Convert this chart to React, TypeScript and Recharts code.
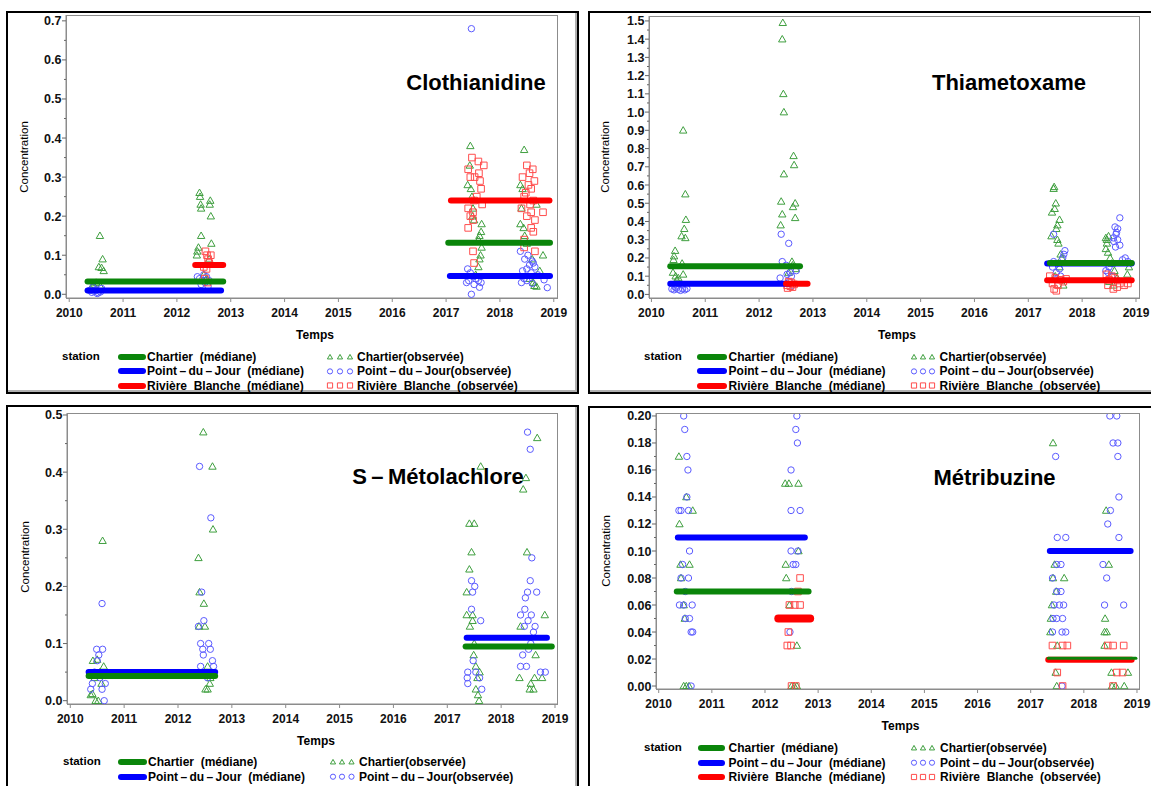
import React from 'react';
import { ScatterChart, Scatter, XAxis, YAxis } from 'recharts';

type Pt = [number, number];

const FONT = '"Liberation Sans", Arial, Helvetica, sans-serif';

// ---------- common ----------
const yearTicks = [2010, 2011, 2012, 2013, 2014, 2015, 2016, 2017, 2018, 2019];
const stationLabel = 'station';
const medLabels = ['Chartier  (médiane)', 'Point\u2009–\u2009du\u2009–\u2009Jour  (médiane)', 'Rivière  Blanche  (médiane)'];
const obsLabels = ['Chartier(observée)', 'Point\u2009–\u2009du\u2009–\u2009Jour(observée)', 'Rivière  Blanche  (observée)'];
const xTitle = 'Temps';
const yTitle = 'Concentration';

// ---------- Clothianidine ----------
const cloTicks = [0, 0.1, 0.2, 0.3, 0.4, 0.5, 0.6, 0.7];
const cloChartierObs: Pt[] = [
  [2010.57, 0.15], [2010.62, 0.09], [2010.55, 0.07], [2010.6, 0.068], [2010.64, 0.06], [2010.5, 0.03], [2010.45, 0.025], [2010.58, 0.02], [2010.4, 0.015],
  [2012.42, 0.26], [2012.43, 0.25], [2012.44, 0.23], [2012.45, 0.22], [2012.62, 0.24], [2012.61, 0.23], [2012.63, 0.2], [2012.45, 0.15], [2012.64, 0.13], [2012.4, 0.12], [2012.38, 0.11], [2012.37, 0.1], [2012.6, 0.09], [2012.5, 0.05], [2012.55, 0.04],
  [2017.45, 0.38], [2017.44, 0.33], [2017.4, 0.28], [2017.46, 0.27], [2017.48, 0.25], [2017.5, 0.22], [2017.49, 0.2], [2017.52, 0.19], [2017.66, 0.18], [2017.65, 0.16], [2017.62, 0.15], [2017.6, 0.14], [2017.66, 0.12], [2017.64, 0.1], [2017.62, 0.09], [2017.6, 0.07], [2017.55, 0.05],
  [2018.45, 0.37], [2018.38, 0.28], [2018.42, 0.27], [2018.68, 0.23], [2018.4, 0.22], [2018.38, 0.18], [2018.44, 0.17], [2018.46, 0.15], [2018.5, 0.13], [2018.8, 0.1], [2018.6, 0.09], [2018.74, 0.06], [2018.55, 0.04], [2018.62, 0.03], [2018.64, 0.022], [2018.68, 0.02],
];
const cloPdjObs: Pt[] = [
  [2010.38, 0.01], [2010.42, 0.005], [2010.46, 0.008], [2010.5, 0.012], [2010.54, 0.004], [2010.58, 0.006], [2010.6, 0.015], [2010.44, 0.018], [2010.52, 0.002],
  [2012.38, 0.045], [2012.42, 0.04], [2012.5, 0.05], [2012.55, 0.045], [2012.6, 0.035], [2012.45, 0.025], [2012.52, 0.03], [2012.58, 0.02],
  [2017.47, 0.68], [2017.4, 0.065], [2017.45, 0.055], [2017.5, 0.045], [2017.55, 0.04], [2017.42, 0.035], [2017.38, 0.03], [2017.6, 0.035], [2017.65, 0.03], [2017.47, 0.0], [2017.62, 0.018], [2017.52, 0.025],
  [2018.38, 0.11], [2018.52, 0.1], [2018.46, 0.09], [2018.6, 0.085], [2018.62, 0.08], [2018.55, 0.075], [2018.65, 0.07], [2018.5, 0.065], [2018.42, 0.06], [2018.58, 0.055], [2018.7, 0.05], [2018.45, 0.04], [2018.5, 0.035], [2018.4, 0.03], [2018.82, 0.037], [2018.88, 0.017], [2018.6, 0.028],
];
const cloRbObs: Pt[] = [
  [2012.53, 0.11], [2012.56, 0.1], [2012.63, 0.1], [2012.58, 0.09], [2012.6, 0.08], [2012.5, 0.07], [2012.55, 0.065], [2012.52, 0.04], [2012.57, 0.03],
  [2017.48, 0.35], [2017.6, 0.34], [2017.7, 0.33], [2017.41, 0.32], [2017.45, 0.3], [2017.53, 0.3], [2017.61, 0.31], [2017.63, 0.29], [2017.65, 0.27], [2017.57, 0.25], [2017.52, 0.24], [2017.67, 0.23], [2017.41, 0.22], [2017.5, 0.21], [2017.45, 0.2], [2017.5, 0.19], [2017.41, 0.17], [2017.5, 0.11], [2017.52, 0.08],
  [2018.5, 0.33], [2018.61, 0.32], [2018.55, 0.31], [2018.42, 0.3], [2018.64, 0.29], [2018.53, 0.28], [2018.58, 0.27], [2018.48, 0.26], [2018.45, 0.25], [2018.62, 0.24], [2018.56, 0.23], [2018.4, 0.22], [2018.58, 0.21], [2018.8, 0.21], [2018.5, 0.2], [2018.65, 0.19], [2018.58, 0.17], [2018.62, 0.16], [2018.45, 0.14], [2018.45, 0.12], [2018.65, 0.11],
];
const cloChartierMed: Pt[][] = [[[2010.34, 0.033], [2012.86, 0.033]], [[2017.04, 0.132], [2018.93, 0.132]]];
const cloPdjMed: Pt[][] = [[[2010.34, 0.01], [2012.82, 0.01]], [[2017.07, 0.047], [2018.93, 0.047]]];
const cloRbMed: Pt[][] = [[[2012.34, 0.075], [2012.86, 0.075]], [[2017.09, 0.24], [2018.92, 0.24]]];

// ---------- Thiametoxame ----------
const thiTicks = [0, 0.1, 0.2, 0.3, 0.4, 0.5, 0.6, 0.7, 0.8, 0.9, 1.0, 1.1, 1.2, 1.3, 1.4, 1.5];
const thiChartierObs: Pt[] = [
  [2010.59, 0.9], [2010.63, 0.55], [2010.64, 0.41], [2010.61, 0.36], [2010.56, 0.32], [2010.63, 0.31], [2010.44, 0.24], [2010.42, 0.21], [2010.41, 0.19], [2010.57, 0.17], [2010.4, 0.12], [2010.59, 0.11], [2010.45, 0.1], [2010.5, 0.09], [2010.47, 0.08],
  [2012.44, 1.49], [2012.43, 1.4], [2012.45, 1.1], [2012.46, 1.0], [2012.64, 0.76], [2012.65, 0.71], [2012.46, 0.66], [2012.41, 0.51], [2012.67, 0.5], [2012.63, 0.48], [2012.43, 0.44], [2012.67, 0.42], [2012.4, 0.38], [2012.61, 0.18], [2012.62, 0.16], [2012.68, 0.14], [2012.55, 0.12],
  [2017.48, 0.59], [2017.47, 0.58], [2017.51, 0.5], [2017.49, 0.47], [2017.44, 0.45], [2017.58, 0.41], [2017.54, 0.38], [2017.52, 0.36], [2017.43, 0.32], [2017.54, 0.3], [2017.56, 0.28], [2017.6, 0.22], [2017.62, 0.2], [2017.58, 0.15], [2017.5, 0.1], [2017.65, 0.05],
  [2018.49, 0.32], [2018.44, 0.31], [2018.46, 0.3], [2018.46, 0.28], [2018.44, 0.25], [2018.48, 0.23], [2018.52, 0.2], [2018.55, 0.17], [2018.87, 0.15], [2018.6, 0.13], [2018.84, 0.11], [2018.65, 0.09], [2018.5, 0.07], [2018.58, 0.05],
];
const thiPdjObs: Pt[] = [
  [2010.38, 0.03], [2010.42, 0.025], [2010.46, 0.035], [2010.5, 0.028], [2010.54, 0.022], [2010.58, 0.03], [2010.62, 0.025], [2010.66, 0.032], [2010.44, 0.04],
  [2012.41, 0.33], [2012.55, 0.28], [2012.43, 0.18], [2012.5, 0.16], [2012.69, 0.13], [2012.58, 0.12], [2012.52, 0.11], [2012.6, 0.1], [2012.39, 0.09], [2012.56, 0.07], [2012.62, 0.05],
  [2017.47, 0.33], [2017.68, 0.24], [2017.66, 0.22], [2017.64, 0.2], [2017.47, 0.18], [2017.55, 0.17], [2017.45, 0.15], [2017.58, 0.14], [2017.52, 0.12], [2017.6, 0.1], [2017.5, 0.08],
  [2018.7, 0.42], [2018.61, 0.37], [2018.66, 0.36], [2018.64, 0.34], [2018.63, 0.33], [2018.58, 0.31], [2018.66, 0.3], [2018.59, 0.29], [2018.7, 0.27], [2018.62, 0.26], [2018.8, 0.2], [2018.75, 0.19], [2018.85, 0.18], [2018.5, 0.15], [2018.44, 0.13], [2018.48, 0.12], [2018.55, 0.1],
];
const thiRbObs: Pt[] = [
  [2012.55, 0.07], [2012.6, 0.065], [2012.65, 0.055], [2012.52, 0.05], [2012.58, 0.045], [2012.53, 0.035], [2012.62, 0.04],
  [2017.4, 0.1], [2017.5, 0.09], [2017.6, 0.08], [2017.45, 0.06], [2017.55, 0.05], [2017.65, 0.07], [2017.48, 0.03], [2017.52, 0.02], [2017.7, 0.085],
  [2018.45, 0.11], [2018.55, 0.1], [2018.6, 0.09], [2018.5, 0.08], [2018.7, 0.06], [2018.48, 0.05], [2018.65, 0.04], [2018.58, 0.03], [2018.85, 0.06], [2018.78, 0.05],
];
const thiChartierMed: Pt[][] = [[[2010.35, 0.155], [2012.76, 0.155]], [[2017.4, 0.172], [2018.92, 0.172]]];
const thiPdjMed: Pt[][] = [[[2010.35, 0.058], [2012.55, 0.058]], [[2017.35, 0.17], [2018.92, 0.17]]];
const thiRbMed: Pt[][] = [[[2012.5, 0.058], [2012.9, 0.058]], [[2017.35, 0.078], [2018.92, 0.078]]];

// ---------- S-Métolachlore ----------
const metTicks = [0, 0.1, 0.2, 0.3, 0.4, 0.5];
const metChartierObs: Pt[] = [
  [2010.6, 0.28], [2010.42, 0.07], [2010.5, 0.072], [2010.62, 0.06], [2010.55, 0.05], [2010.45, 0.04], [2010.58, 0.03], [2010.38, 0.01], [2010.41, 0.012], [2010.47, 0.0], [2010.52, 0.0],
  [2012.47, 0.47], [2012.64, 0.41], [2012.65, 0.3], [2012.38, 0.25], [2012.4, 0.19], [2012.48, 0.17], [2012.39, 0.13], [2012.5, 0.13], [2012.55, 0.06], [2012.6, 0.04], [2012.59, 0.03], [2012.51, 0.02], [2012.55, 0.02],
  [2017.62, 0.41], [2017.41, 0.31], [2017.5, 0.31], [2017.45, 0.26], [2017.41, 0.23], [2017.36, 0.19], [2017.36, 0.15], [2017.47, 0.15], [2017.47, 0.14], [2017.42, 0.13], [2017.5, 0.1], [2017.49, 0.08], [2017.53, 0.06], [2017.6, 0.05], [2017.56, 0.04], [2017.53, 0.02], [2017.57, 0.01], [2017.59, 0.0],
  [2018.67, 0.46], [2018.46, 0.39], [2018.41, 0.37], [2018.48, 0.26], [2018.81, 0.15], [2018.36, 0.13], [2018.64, 0.08], [2018.34, 0.04], [2018.62, 0.04], [2018.76, 0.04], [2018.55, 0.03], [2018.53, 0.02], [2018.6, 0.02],
];
const metPdjObs: Pt[] = [
  [2010.59, 0.17], [2010.49, 0.09], [2010.6, 0.09], [2010.53, 0.08], [2010.5, 0.07], [2010.45, 0.05], [2010.55, 0.04], [2010.41, 0.03], [2010.65, 0.03], [2010.38, 0.02], [2010.59, 0.02], [2010.63, 0.0],
  [2012.4, 0.41], [2012.61, 0.32], [2012.44, 0.19], [2012.48, 0.14], [2012.38, 0.13], [2012.42, 0.1], [2012.57, 0.1], [2012.46, 0.09], [2012.6, 0.09], [2012.47, 0.08], [2012.64, 0.07], [2012.42, 0.06], [2012.66, 0.06], [2012.55, 0.04],
  [2017.45, 0.21], [2017.51, 0.2], [2017.47, 0.19], [2017.45, 0.16], [2017.62, 0.14], [2017.48, 0.07], [2017.38, 0.05], [2017.53, 0.05], [2017.37, 0.04], [2017.6, 0.04], [2017.38, 0.03], [2017.64, 0.02],
  [2018.49, 0.47], [2018.54, 0.44], [2018.57, 0.25], [2018.54, 0.21], [2018.49, 0.19], [2018.66, 0.19], [2018.45, 0.18], [2018.44, 0.16], [2018.36, 0.15], [2018.56, 0.15], [2018.5, 0.14], [2018.43, 0.13], [2018.63, 0.13], [2018.6, 0.12], [2018.55, 0.1], [2018.51, 0.09], [2018.4, 0.08], [2018.36, 0.06], [2018.47, 0.06], [2018.73, 0.05], [2018.82, 0.05],
];
const metChartierMed: Pt[][] = [[[2010.34, 0.043], [2012.69, 0.043]], [[2017.34, 0.095], [2018.94, 0.095]]];
const metPdjMed: Pt[][] = [[[2010.34, 0.05], [2012.69, 0.05]], [[2017.36, 0.11], [2018.85, 0.11]]];

// ---------- Métribuzine ----------
const mtbTicks = [0, 0.02, 0.04, 0.06, 0.08, 0.1, 0.12, 0.14, 0.16, 0.18, 0.2];
const mtbChartierObs: Pt[] = [
  [2010.38, 0.17], [2010.52, 0.14], [2010.64, 0.13], [2010.39, 0.12], [2010.41, 0.09], [2010.58, 0.09], [2010.42, 0.08], [2010.47, 0.06], [2010.49, 0.05], [2010.47, 0.0], [2010.52, 0.0], [2010.57, 0.0],
  [2012.38, 0.15], [2012.45, 0.15], [2012.63, 0.15], [2012.63, 0.1], [2012.39, 0.09], [2012.4, 0.08], [2012.46, 0.06], [2012.6, 0.03], [2012.5, 0.0], [2012.55, 0.0], [2012.6, 0.0],
  [2017.42, 0.18], [2017.45, 0.09], [2017.42, 0.08], [2017.63, 0.08], [2017.48, 0.07], [2017.4, 0.06], [2017.38, 0.05], [2017.37, 0.04], [2017.5, 0.03], [2017.47, 0.01], [2017.49, 0.0],
  [2018.42, 0.13], [2018.47, 0.09], [2018.4, 0.05], [2018.39, 0.04], [2018.43, 0.04], [2018.39, 0.03], [2018.52, 0.01], [2018.83, 0.01], [2018.53, 0.0], [2018.6, 0.0], [2018.76, 0.0],
];
const mtbPdjObs: Pt[] = [
  [2010.47, 0.2], [2010.49, 0.19], [2010.53, 0.17], [2010.55, 0.16], [2010.53, 0.14], [2010.38, 0.13], [2010.42, 0.13], [2010.56, 0.13], [2010.58, 0.1], [2010.45, 0.09], [2010.42, 0.08], [2010.56, 0.08], [2010.5, 0.07], [2010.39, 0.06], [2010.47, 0.06], [2010.63, 0.06], [2010.5, 0.05], [2010.58, 0.05], [2010.61, 0.04], [2010.64, 0.04], [2010.61, 0.0],
  [2012.6, 0.2], [2012.58, 0.19], [2012.61, 0.18], [2012.49, 0.16], [2012.49, 0.13], [2012.66, 0.13], [2012.49, 0.1], [2012.62, 0.1], [2012.53, 0.09], [2012.58, 0.09], [2012.5, 0.07], [2012.47, 0.04],
  [2017.47, 0.17], [2017.5, 0.11], [2017.66, 0.11], [2017.49, 0.09], [2017.57, 0.09], [2017.41, 0.08], [2017.49, 0.07], [2017.57, 0.07], [2017.44, 0.06], [2017.54, 0.06], [2017.62, 0.06], [2017.42, 0.05], [2017.49, 0.05], [2017.6, 0.05], [2017.41, 0.04], [2017.59, 0.04], [2017.66, 0.04], [2017.59, 0.0],
  [2018.49, 0.2], [2018.62, 0.2], [2018.55, 0.18], [2018.64, 0.18], [2018.64, 0.17], [2018.66, 0.14], [2018.5, 0.13], [2018.45, 0.12], [2018.66, 0.11], [2018.36, 0.09], [2018.43, 0.08], [2018.39, 0.06], [2018.75, 0.06],
];
const mtbRbObs: Pt[] = [
  [2012.66, 0.08], [2012.62, 0.07], [2012.46, 0.06], [2012.56, 0.06], [2012.66, 0.06], [2012.44, 0.04], [2012.42, 0.03], [2012.49, 0.03], [2012.5, 0.0], [2012.58, 0.0],
  [2017.41, 0.03], [2017.6, 0.03], [2017.69, 0.03], [2017.5, 0.01], [2017.6, 0.0],
  [2018.45, 0.03], [2018.55, 0.03], [2018.75, 0.03], [2018.62, 0.01], [2018.73, 0.01], [2018.55, 0.0],
];
const mtbPdjMed: Pt[][] = [[[2010.36, 0.11], [2012.75, 0.11]], [[2017.36, 0.1], [2018.88, 0.1]]];
const mtbChartierMed: Pt[][] = [[[2010.34, 0.07], [2012.82, 0.07]], [[2017.33, 0.0205], [2018.98, 0.0205]]];
const mtbRbMed: Pt[][] = [[[2012.25, 0.05], [2012.85, 0.05]], [[2017.33, 0.0195], [2018.9, 0.0195]]];

// ---------- styles ----------
const GREEN_LINE = '#0a850a';
const BLUE_LINE = '#0000ff';
const RED_LINE = '#ff0000';
const GREEN_PT = '#3f9f3f';
const BLUE_PT = '#5b5bff';
const RED_PT = '#ff4d4d';
const AXIS = '#8c8c8c';

type Kind = 'tri' | 'circ' | 'sq';

function markerPath(kind: Kind, cx: number, cy: number, s: number) {
  if (kind === 'tri') return `M${cx},${cy - s} L${cx + s},${cy + s * 0.75} L${cx - s},${cy + s * 0.75} Z`;
  if (kind === 'sq') return `M${cx - s},${cy - s} H${cx + s} V${cy + s} H${cx - s} Z`;
  return '';
}

function Marker({ kind, cx, cy, s, color }: { kind: Kind; cx: number; cy: number; s: number; color: string }) {
  if (cx == null || cy == null || isNaN(cx) || isNaN(cy)) return <g />;
  if (kind === 'circ') return <circle cx={cx} cy={cy} r={s} fill="none" stroke={color} strokeWidth={1} />;
  return <path d={markerPath(kind, cx, cy, s)} fill="none" stroke={color} strokeWidth={1} />;
}

const toXY = (arr: Pt[]) => arr.map(([x, y]) => ({ x, y }));

function YTick(props: any) {
  const { x, y, payload, step, digits } = props;
  const v = payload.value as number;
  const major = Math.abs(v / step - Math.round(v / step)) < 1e-6;
  return (
    <g>
      <line x1={x - (major ? 4 : 2)} x2={x} y1={y} y2={y} stroke="#666" strokeWidth={1} />
      {major && (
        <text x={x - 4.5} y={y} dy="0.36em" textAnchor="end" fontSize={12.5} fontWeight={700} fill="#111" fontFamily={FONT}>
          {v.toFixed(digits)}
        </text>
      )}
    </g>
  );
}

interface ObsSeries { data: Pt[]; kind: Kind; color: string; size: number }
interface MedSeries { data: Pt[]; color: string; width: number }
interface LegendRow { med: string; medColor: string; obs: string; kind: Kind; obsColor: string }
interface PanelProps {
  box: { left: number; top: number; width: number; height: number };
  rect: { x: number; y: number; w: number; h: number };
  xDomain: [number, number];
  yDomain: [number, number];
  yTicks: number[];
  digits: number;
  obs: ObsSeries[];
  meds: MedSeries[];
  title: string;
  titlePos: [number, number];
  yLabPos: [number, number];
  xLabPos: [number, number];
  legend: {
    rowsY: number[];
    stationX: number;
    swX: [number, number];
    medTextX: number;
    mkX: number[];
    obsTextX: number;
    rows: LegendRow[];
  };
}

function Panel(p: PanelProps) {
  const { rect } = p;
  const step = p.yTicks[1] - p.yTicks[0];
  const allTicks: number[] = [];
  p.yTicks.forEach((t, i) => {
    allTicks.push(t);
    if (i < p.yTicks.length - 1) allTicks.push(+(t + step / 2).toFixed(6));
  });
  const textBase: React.CSSProperties = { position: 'absolute', fontFamily: FONT, color: '#000', whiteSpace: 'pre', lineHeight: 1 };
  const lg = p.legend;
  return (
    <>
      <div
        style={{
          position: 'absolute',
          left: p.box.left,
          top: p.box.top,
          width: p.box.width,
          height: p.box.height,
          border: '2px solid #000',
          boxSizing: 'border-box',
          boxShadow: 'inset -2px -2px 0 #b0b0b0',
        }}
      />
      <div style={{ position: 'absolute', left: rect.x - 60, top: rect.y - 10 }}>
        <ScatterChart width={rect.w + 85} height={rect.h + 40} margin={{ top: 10, right: 25, bottom: 0, left: 10 }}>
          <XAxis
            type="number"
            dataKey="x"
            domain={p.xDomain}
            allowDataOverflow
            ticks={yearTicks}
            interval={0}
            height={30}
            tickSize={4}
            tickMargin={6}
            stroke={AXIS}
            tick={{ fontSize: 12, fontWeight: 700, fill: '#111', fontFamily: FONT }}
          />
          <YAxis
            type="number"
            dataKey="y"
            domain={p.yDomain}
            allowDataOverflow
            ticks={allTicks}
            interval={0}
            width={50}
            tickSize={0}
            tickMargin={0}
            tickLine={false}
            stroke={AXIS}
            tick={(tp: any) => <YTick {...tp} step={step} digits={p.digits} />}
          />
          {p.obs.map((s, i) => (
            <Scatter
              key={'o' + i}
              data={toXY(s.data)}
              fill={s.color}
              isAnimationActive={false}
              shape={(sp: any) => <Marker kind={s.kind} cx={sp.cx} cy={sp.cy} s={s.size} color={s.color} />}
            />
          ))}
          {p.meds.map((m, i) => (
            <Scatter
              key={'m' + i}
              data={toXY(m.data)}
              fill={m.color}
              isAnimationActive={false}
              line={{ stroke: m.color, strokeWidth: m.width, strokeLinecap: 'round' } as any}
              lineType="joint"
              shape={() => <g />}
            />
          ))}
        </ScatterChart>
      </div>
      <div
        style={{
          position: 'absolute',
          left: rect.x,
          top: rect.y,
          width: rect.w + 1,
          height: rect.h + 1,
          border: `1px solid ${AXIS}`,
          boxSizing: 'border-box',
          pointerEvents: 'none',
        }}
      />
      <div style={{ ...textBase, left: p.titlePos[0], top: p.titlePos[1], transform: 'translate(-50%,-50%)', fontSize: 22, fontWeight: 700 }}>{p.title}</div>
      <div style={{ ...textBase, left: p.yLabPos[0], top: p.yLabPos[1], transform: 'translate(-50%,-50%) rotate(-90deg)', fontSize: 11.5 }}>{yTitle}</div>
      <div style={{ ...textBase, left: p.xLabPos[0], top: p.xLabPos[1], transform: 'translate(-50%,-50%)', fontSize: 12, fontWeight: 700 }}>{xTitle}</div>
      <div style={{ ...textBase, left: lg.stationX, top: lg.rowsY[0], transform: 'translateY(-50%)', fontSize: 11.5, fontWeight: 700 }}>{stationLabel}</div>
      {lg.rows.map((r, i) => (
        <React.Fragment key={i}>
          <div
            style={{
              position: 'absolute',
              left: lg.swX[0],
              top: lg.rowsY[i] - 3,
              width: lg.swX[1] - lg.swX[0],
              height: 6,
              borderRadius: 3,
              background: r.medColor,
            }}
          />
          <div style={{ ...textBase, left: lg.medTextX, top: lg.rowsY[i], transform: 'translateY(-50%)', fontSize: 12, fontWeight: 700 }}>{r.med}</div>
          <svg style={{ position: 'absolute', left: 0, top: 0, overflow: 'visible' }} width={1} height={1}>
            {lg.mkX.map((mx, j) => (
              <Marker key={j} kind={r.kind} cx={mx} cy={lg.rowsY[i]} s={2.6} color={r.obsColor} />
            ))}
          </svg>
          <div style={{ ...textBase, left: lg.obsTextX, top: lg.rowsY[i], transform: 'translateY(-50%)', fontSize: 12, fontWeight: 700 }}>{r.obs}</div>
        </React.Fragment>
      ))}
    </>
  );
}

const rowsAll: LegendRow[] = [
  { med: medLabels[0], medColor: GREEN_LINE, obs: obsLabels[0], kind: 'tri', obsColor: GREEN_PT },
  { med: medLabels[1], medColor: BLUE_LINE, obs: obsLabels[1], kind: 'circ', obsColor: BLUE_PT },
  { med: medLabels[2], medColor: RED_LINE, obs: obsLabels[2], kind: 'sq', obsColor: RED_PT },
];

const obsSet = (c: Pt[], p: Pt[], r?: Pt[]): ObsSeries[] => {
  const out: ObsSeries[] = [
    { data: c, kind: 'tri', color: GREEN_PT, size: 3.7 },
    { data: p, kind: 'circ', color: BLUE_PT, size: 3.2 },
  ];
  if (r) out.push({ data: r, kind: 'sq', color: RED_PT, size: 3.3 });
  return out;
};

const medSet = (groups: { segs: Pt[][]; color: string; width: number }[]): MedSeries[] =>
  groups.flatMap((g) => g.segs.map((s) => ({ data: s, color: g.color, width: g.width })));

export default function App() {
  return (
    <div style={{ position: 'absolute', left: 0, top: 0, width: 1151, height: 786, background: '#fff', overflow: 'hidden' }}>
      <Panel
        box={{ left: 6, top: 11, width: 573, height: 383 }}
        rect={{ x: 66, y: 15, w: 491, h: 283 }}
        xDomain={[2009.94, 2019.06]}
        yDomain={[-0.0095, 0.715]}
        yTicks={cloTicks}
        digits={1}
        obs={obsSet(cloChartierObs, cloPdjObs, cloRbObs)}
        meds={medSet([
          { segs: cloChartierMed, color: GREEN_LINE, width: 6 },
          { segs: cloPdjMed, color: BLUE_LINE, width: 6 },
          { segs: cloRbMed, color: RED_LINE, width: 6 },
        ])}
        title="Clothianidine"
        titlePos={[476, 83]}
        yLabPos={[25, 157]}
        xLabPos={[315, 335]}
        legend={{ rowsY: [357, 371.4, 385.5], stationX: 62, swX: [118, 146], medTextX: 147, mkX: [330, 340, 350], obsTextX: 357, rows: rowsAll }}
      />
      <Panel
        box={{ left: 588, top: 11, width: 570, height: 383 }}
        rect={{ x: 649, y: 16, w: 490, h: 282 }}
        xDomain={[2009.955, 2019.056]}
        yDomain={[-0.0197, 1.527]}
        yTicks={thiTicks}
        digits={1}
        obs={obsSet(thiChartierObs, thiPdjObs, thiRbObs)}
        meds={medSet([
          { segs: thiPdjMed, color: BLUE_LINE, width: 6 },
          { segs: thiChartierMed, color: GREEN_LINE, width: 6 },
          { segs: thiRbMed, color: RED_LINE, width: 6 },
        ])}
        title="Thiametoxame"
        titlePos={[1009, 83]}
        yLabPos={[606, 157]}
        xLabPos={[897, 335]}
        legend={{ rowsY: [357, 371.4, 385.5], stationX: 644, swX: [697, 727], medTextX: 728.6, mkX: [914, 923, 932], obsTextX: 939.5, rows: rowsAll }}
      />
      <Panel
        box={{ left: 6, top: 405, width: 573, height: 400 }}
        rect={{ x: 67, y: 413, w: 490, h: 291 }}
        xDomain={[2009.939, 2019.037]}
        yDomain={[-0.0058, 0.5035]}
        yTicks={metTicks}
        digits={1}
        obs={obsSet(metChartierObs, metPdjObs)}
        meds={medSet([
          { segs: metPdjMed, color: BLUE_LINE, width: 6 },
          { segs: metChartierMed, color: GREEN_LINE, width: 6 },
        ])}
        title={'S\u2009–\u2009Métolachlore'}
        titlePos={[438, 477]}
        yLabPos={[26, 557]}
        xLabPos={[316, 741]}
        legend={{ rowsY: [762, 776.7], stationX: 63, swX: [118, 147], medTextX: 148, mkX: [333, 342, 351.5], obsTextX: 359, rows: rowsAll.slice(0, 2) }}
      />
      <Panel
        box={{ left: 588, top: 406, width: 570, height: 400 }}
        rect={{ x: 656, y: 413, w: 483, h: 276 }}
        xDomain={[2009.949, 2019.038]}
        yDomain={[-0.0022, 0.2022]}
        yTicks={mtbTicks}
        digits={2}
        obs={obsSet(mtbChartierObs, mtbPdjObs, mtbRbObs)}
        meds={medSet([
          { segs: mtbPdjMed, color: BLUE_LINE, width: 6 },
          { segs: [mtbChartierMed[0]], color: GREEN_LINE, width: 6 },
          { segs: [mtbRbMed[0]], color: RED_LINE, width: 8 },
          { segs: [mtbRbMed[1]], color: RED_LINE, width: 6 },
          { segs: [mtbChartierMed[1]], color: GREEN_LINE, width: 3 },
        ])}
        title="Métribuzine"
        titlePos={[994.5, 478]}
        yLabPos={[607, 551]}
        xLabPos={[900.5, 726]}
        legend={{ rowsY: [748, 762.7, 777], stationX: 644, swX: [698, 725], medTextX: 728.6, mkX: [914, 923, 932], obsTextX: 940, rows: rowsAll }}
      />
    </div>
  );
}
